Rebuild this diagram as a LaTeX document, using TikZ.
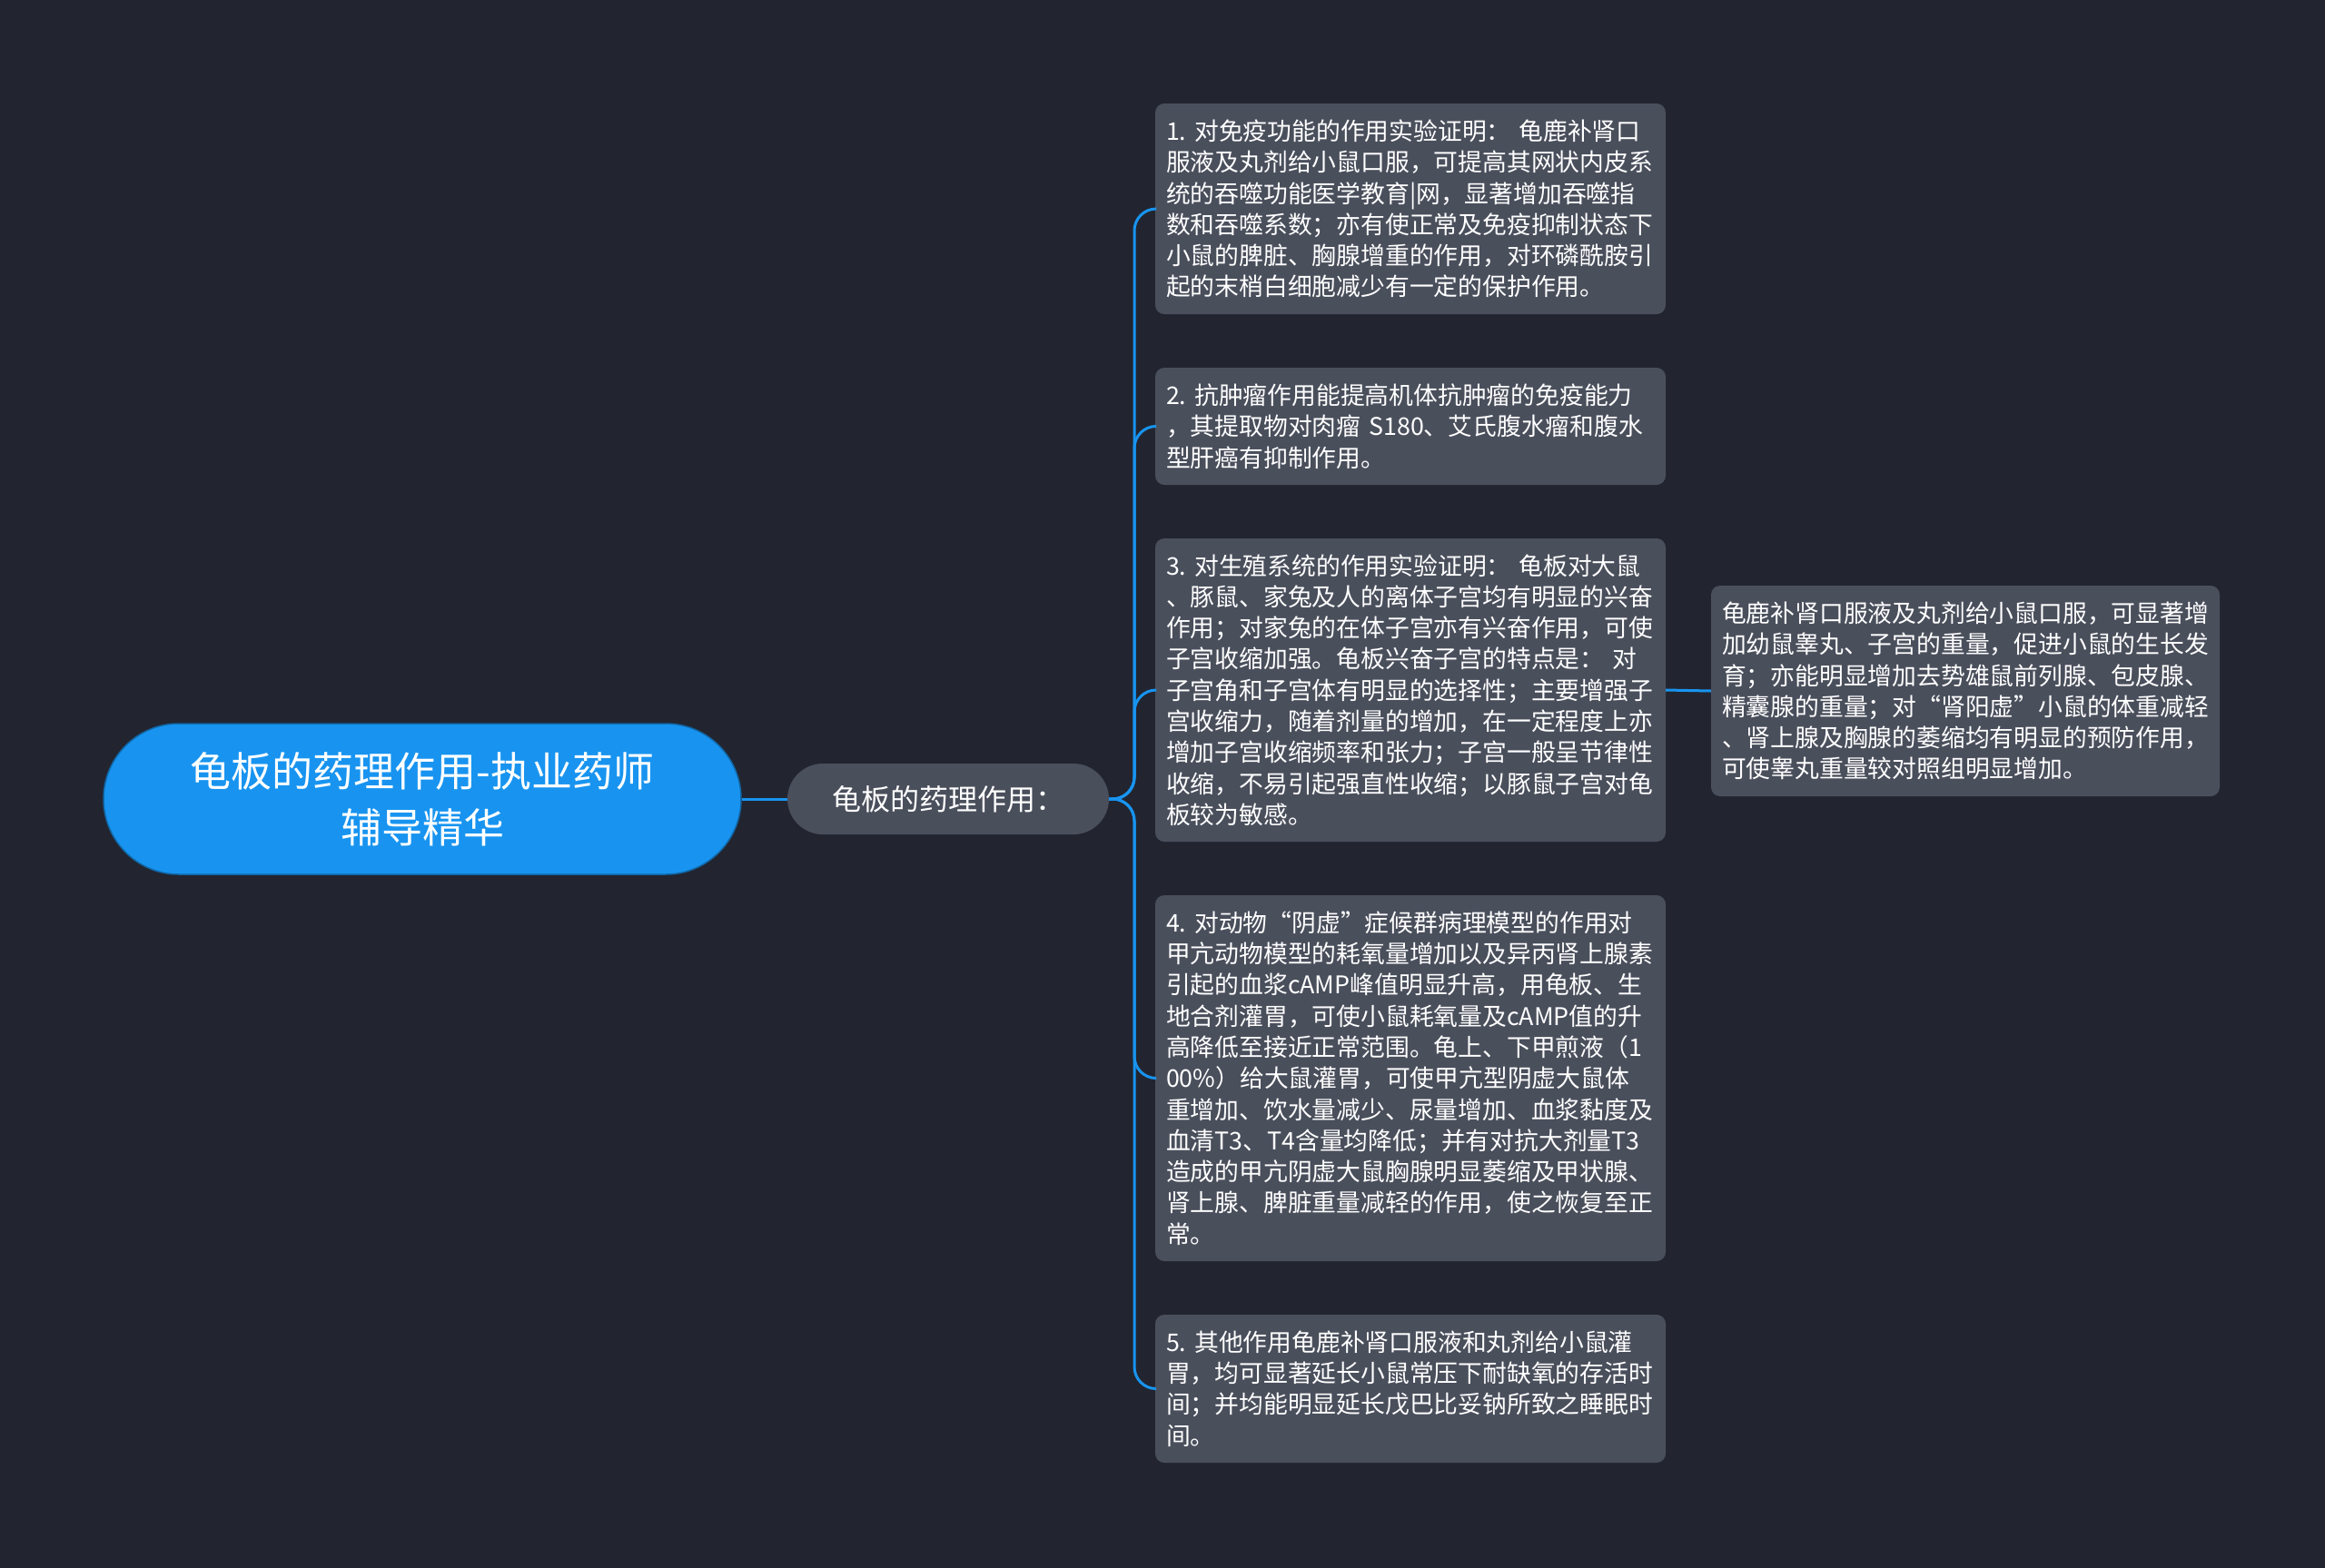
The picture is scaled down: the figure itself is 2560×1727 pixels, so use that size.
\documentclass[tikz,border=0pt]{standalone}
\usepackage{fontspec}
\setmainfont{Noto Sans CJK SC}
\frenchspacing
\definecolor{bgc}{RGB}{34,37,48}
\definecolor{boxc}{RGB}{74,79,92}
\definecolor{bluec}{RGB}{24,148,240}
\begin{document}
\begin{tikzpicture}[x=1pt,y=-1pt,
  leaf/.style={fill=boxc, rounded corners=10pt, text=white, align=left, inner xsep=12pt, inner ysep=0pt,
    text width=538pt, font=\fontsize{26.8}{34.3}\selectfont\frenchspacing, anchor=center},
  conn/.style={draw=bluec, line width=3pt, rounded corners=24pt}]
\fill[bgc] (0,0) rectangle (2560,1727);
\useasboundingbox (0,0) rectangle (2560,1727);
\node[fill=bluec, draw=bluec!70!black, line width=1.5pt, rounded corners=83pt, minimum width=702pt, minimum height=166pt,
  text=white, align=center, font=\fontsize{45}{62}\selectfont] (root) at (465,880)
  {龟板的药理作用-执业药师\\辅导精华};
\node[fill=boxc, rounded corners=39pt, minimum width=354pt, minimum height=78pt, text=white,
  font=\fontsize{32}{38}\selectfont] (mid) at (1044,880) {龟板的药理作用：};
\node[leaf, minimum height=232pt] (b1) at (1553,230) {1.\ 对免疫功能的作用实验证明： 龟鹿补肾口\\服液及丸剂给小鼠口服，可提高其网状内皮系\\统的吞噬功能医学教育|网，显著增加吞噬指\\数和吞噬系数；亦有使正常及免疫抑制状态下\\小鼠的脾脏、胸腺增重的作用，对环磷酰胺引\\起的末梢白细胞减少有一定的保护作用。};
\node[leaf, minimum height=129pt] (b2) at (1553,469.5) {2.\ 抗肿瘤作用能提高机体抗肿瘤的免疫能力\\，其提取物对肉瘤 S180、艾氏腹水瘤和腹水\\型肝癌有抑制作用。};
\node[leaf, minimum height=334pt] (b3) at (1553,760) {3.\ 对生殖系统的作用实验证明： 龟板对大鼠\\、豚鼠、家兔及人的离体子宫均有明显的兴奋\\作用；对家兔的在体子宫亦有兴奋作用，可使\\子宫收缩加强。龟板兴奋子宫的特点是： 对\\子宫角和子宫体有明显的选择性；主要增强子\\宫收缩力，随着剂量的增加，在一定程度上亦\\增加子宫收缩频率和张力；子宫一般呈节律性\\收缩，不易引起强直性收缩；以豚鼠子宫对龟\\板较为敏感。};
\node[leaf, minimum height=403pt] (b4) at (1553,1187.5) {4.\ 对动物“阴虚”症候群病理模型的作用对\\甲亢动物模型的耗氧量增加以及异丙肾上腺素\\引起的血浆cAMP峰值明显升高，用龟板、生\\地合剂灌胃，可使小鼠耗氧量及cAMP值的升\\高降低至接近正常范围。龟上、下甲煎液（1\\00\%）给大鼠灌胃，可使甲亢型阴虚大鼠体\\重增加、饮水量减少、尿量增加、血浆黏度及\\血清T3、T4含量均降低；并有对抗大剂量T3\\造成的甲亢阴虚大鼠胸腺明显萎缩及甲状腺、\\肾上腺、脾脏重量减轻的作用，使之恢复至正\\常。};
\node[leaf, minimum height=163pt] (b5) at (1553,1529.5) {5.\ 其他作用龟鹿补肾口服液和丸剂给小鼠灌\\胃，均可显著延长小鼠常压下耐缺氧的存活时\\间；并均能明显延长戊巴比妥钠所致之睡眠时\\间。};
\node[leaf, minimum height=232pt, text width=536pt] (b6) at (2164,761) {龟鹿补肾口服液及丸剂给小鼠口服，可显著增\\加幼鼠睾丸、子宫的重量，促进小鼠的生长发\\育；亦能明显增加去势雄鼠前列腺、包皮腺、\\精囊腺的重量；对“肾阳虚”小鼠的体重减轻\\、肾上腺及胸腺的萎缩均有明显的预防作用，\\可使睾丸重量较对照组明显增加。};
\coordinate (sp) at (1249,880);
\draw[conn] (root.east) -- (mid.west);
\foreach \b in {b1,b2,b3,b4,b5}{
  \draw[conn] (mid.east) -- (sp) |- (\b.west);
}
\draw[conn] (b3.east) -- (b6.west);
\end{tikzpicture}
\end{document}
